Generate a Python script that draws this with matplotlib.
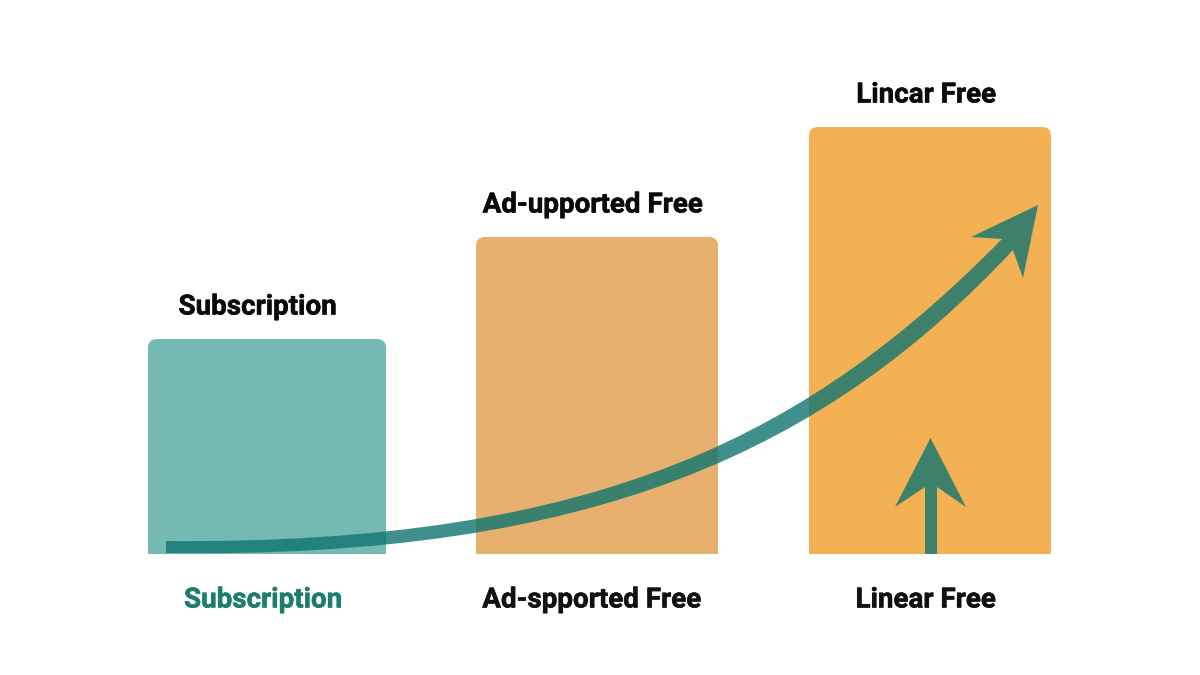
import matplotlib
matplotlib.use("Agg")
import matplotlib.pyplot as plt
import matplotlib.patheffects as pe
from matplotlib.path import Path
from matplotlib.patches import PathPatch

plt.rcParams['font.family'] = ['Roboto', 'DejaVu Sans']

# Data
categories = ["Subscription", "Ad-spported Free", "Linear Free"]
top_labels = ["Subscription", "Ad-upported Free", "Lincar Free"]
values = [215, 317, 427]

# Layout and style
bar_centers = [267, 597, 930]
bar_widths = [238, 242, 242]
top_label_x = [257.5, 592.5, 926]
bottom_label_x = [263, 591.5, 925.5]
bar_colors = ["#74B9B2", "#E8B06F", "#F3B154"]
bottom_colors = ["#1F7D70", "#111111", "#111111"]
ARROW = "#0F7570"
ARROW_ALPHA = 0.8
FONT_SIZE = 20.0

H = 554  # baseline pixel row
fig = plt.figure(figsize=(12, 6.75), dpi=100, facecolor="white")
ax = fig.add_axes([0, 0, 1, 1])
ax.set_xlim(0, 1200)
ax.set_ylim(H - 675, H)
ax.axis("off")


def rounded_top(xc, w, h, r=9):
    x0, x1 = xc - w / 2, xc + w / 2
    verts = [(x0, 0), (x0, h - r), (x0, h), (x0 + r, h), (x1 - r, h), (x1, h), (x1, h - r), (x1, 0), (x0, 0)]
    codes = [Path.MOVETO, Path.LINETO, Path.CURVE3, Path.CURVE3, Path.LINETO, Path.CURVE3, Path.CURVE3, Path.LINETO, Path.CLOSEPOLY]
    return Path(verts, codes)


def label(x, y, s, color):
    ax.text(x, y, s, ha="center", va="center", fontsize=FONT_SIZE, fontweight="bold", color=color,
            path_effects=[pe.withStroke(linewidth=0.4, foreground=color)], zorder=4)


for i, v in enumerate(values):
    ax.add_patch(PathPatch(rounded_top(bar_centers[i], bar_widths[i], v), fc=bar_colors[i], ec="none", zorder=1))
    label(top_label_x[i], v + 32, top_labels[i], "#0A0A0A")
    label(bottom_label_x[i], -46, categories[i], bottom_colors[i])


def py(p):
    return H - p


# Rising curved arrow, one outline
big_verts = [
    (166, py(541)),
    (604, py(545)), (813, py(431)), (1002, py(239)),
    (971, py(237)), (1038, py(205)), (1023, py(278)), (1013, py(250)),
    (827, py(449)), (596, py(559)), (166, py(553)),
    (166, py(541)),
]
big_codes = [Path.MOVETO, Path.CURVE4, Path.CURVE4, Path.CURVE4,
             Path.LINETO, Path.LINETO, Path.LINETO, Path.LINETO,
             Path.CURVE4, Path.CURVE4, Path.CURVE4, Path.CLOSEPOLY]
ax.add_patch(PathPatch(Path(big_verts, big_codes), fc=ARROW, ec="none", alpha=ARROW_ALPHA, zorder=3))

# Small upright arrow
small = [(925, py(554)), (925, py(487)), (895, py(507)), (930.5, py(438)), (966, py(507)), (937, py(487)), (937, py(554)), (925, py(554))]
ax.add_patch(PathPatch(Path(small, closed=True), fc=ARROW, ec="none", alpha=ARROW_ALPHA, zorder=3))

fig.savefig("out.png", dpi=100, facecolor="white")
